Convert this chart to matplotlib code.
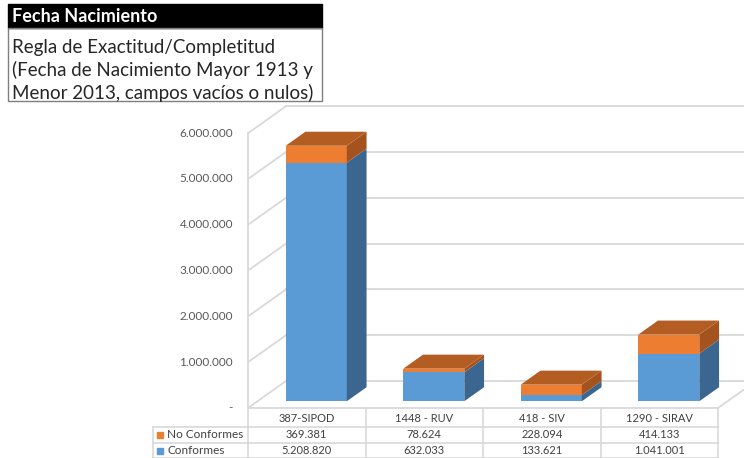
import matplotlib
matplotlib.use("Agg")
from matplotlib import pyplot as plt
from matplotlib.patches import Polygon, Rectangle
import numpy as np

plt.rcParams['font.family'] = ['Lato', 'DejaVu Sans']

sistemas = ['387-SIPOD', '1448 - RUV', '418 - SIV', '1290 - SIRAV']
conformes = np.array([5208820, 632033, 133621, 1041001])
no_conformes = np.array([369381, 78624, 228094, 414133])
series = ['No Conformes', 'Conformes']
y_ticks = [0, 1000000, 2000000, 3000000, 4000000, 5000000, 6000000]

titulo = 'Fecha Nacimiento'
regla = ['Regla de Exactitud/Completitud',
         '(Fecha de Nacimiento Mayor 1913 y',
         'Menor 2013, campos vacíos o nulos)']


def fmt(v):
    return '-' if v == 0 else f'{v:,}'.replace(',', '.')


# colours: front, side, top
blue = ['#5B9BD5', '#3A6690', '#4A80B2']
orange = ['#ED7D31', '#A4531F', '#B45D23']
grid = '#D9D9D9'
txt = '#404040'

# pixel layout of the excel 3d chart
W, H = 744, 458
x0_px, col_px = 248, 117.5   # left of the floor, width of one category
y0_px, mill_px = 408, 45.8   # front floor line, pixels per million
dep_x, dep_y = 38, 27        # depth of floor
f_front, f_back = 0.25, 0.77  # bars sit in the middle of the depth
bar_w = 0.52

DX = dep_x / col_px
DY = dep_y / mill_px * 1e6
n = len(sistemas)

fig = plt.figure(figsize=(W / 100, H / 100), dpi=100)
ax = fig.add_axes([0, 0, 1, 1])
ax.set_xlim(-0.5 - x0_px / col_px, -0.5 + (W - x0_px) / col_px)
ax.set_ylim(-(H - y0_px) / mill_px * 1e6, y0_px / mill_px * 1e6)
ax.axis('off')

# walls and floor
xl = -0.5
xr = ax.get_xlim()[1] + 1
for v in y_ticks:
    ax.plot([xl + DX, xr], [v + DY, v + DY], color=grid, lw=1.3, zorder=1)
    ax.plot([xl, xl + DX], [v, v + DY], color=grid, lw=1.3, zorder=1)
    ax.text(xl - 15 / col_px, v, fmt(v), ha='right', va='center',
            fontsize=8.5, color='#595959')
ax.plot([xl, xl], [0, y_ticks[-1]], color=grid, lw=1.3, zorder=1)
ax.plot([xl, n - 0.5], [0, 0], color=grid, lw=1.3, zorder=1)
ax.plot([n - 0.5, n - 0.5 + DX], [0, DY], color=grid, lw=1.3, zorder=1)

# stacked 3d columns
x = np.arange(n)
fx = x - bar_w / 2 + f_front * DX
fy = f_front * DY
ox = (f_back - f_front) * DX
oy = (f_back - f_front) * DY
bottoms = np.zeros(n)
for k, (vals, cols) in enumerate([(conformes, blue), (no_conformes, orange)]):
    ax.bar(fx, vals, width=bar_w, bottom=fy + bottoms, align='edge',
           color=cols[0], zorder=3)
    for i in range(n):
        lo = fy + bottoms[i]
        hi = lo + vals[i]
        xe = fx[i] + bar_w
        ax.add_patch(Polygon([(xe, lo), (xe + ox, lo + oy), (xe + ox, hi + oy), (xe, hi)],
                             closed=True, facecolor=cols[1], edgecolor='none', zorder=3))
        if k == 1:
            ax.add_patch(Polygon([(fx[i], hi), (xe, hi), (xe + ox, hi + oy), (fx[i] + ox, hi + oy)],
                                 closed=True, facecolor=cols[2], edgecolor='none', zorder=3))
    bottoms = bottoms + vals

# overlay in pixels for the data table and the title box
tb = fig.add_axes([0, 0, 1, 1])
tb.set_xlim(0, W)
tb.set_ylim(H, 0)
tb.axis('off')

line = dict(color=grid, lw=1.2)
for c in range(n + 1):
    xc = x0_px + c * col_px
    tb.plot([xc, xc], [y0_px, H], **line)
for yy in [427, 443, 457.5]:
    tb.plot([153, x0_px + n * col_px], [yy, yy], **line)
tb.plot([153, 153], [427, H], **line)

rows_y = [435, 451]
row_vals = [no_conformes, conformes]
keys = [orange[0], blue[0]]
for c, name in enumerate(sistemas):
    xc = x0_px + (c + 0.5) * col_px
    tb.text(xc, 418, name, ha='center', va='center', fontsize=8, color=txt)
    for r in range(2):
        tb.text(xc, rows_y[r], fmt(row_vals[r][c]), ha='center', va='center',
                fontsize=8, color=txt)
for r in range(2):
    tb.add_patch(Rectangle((157, rows_y[r] - 3), 6, 6, color=keys[r]))
    tb.text(167, rows_y[r], series[r], ha='left', va='center', fontsize=8.5, color=txt)

# title box
tb.add_patch(Rectangle((8, 4), 314, 24, facecolor='black', edgecolor='black'))
tb.add_patch(Rectangle((8, 28), 314, 73, facecolor='none', edgecolor='#7F7F7F', lw=1))
tb.text(12, 16.5, titulo, color='white', fontsize=13, fontweight='bold',
        ha='left', va='center')
for j, s in enumerate(regla):
    tb.text(12, 47 + 23 * j, s, color='#262626', fontsize=13.5, ha='left', va='center')

fig.savefig('out.png', dpi=100)
